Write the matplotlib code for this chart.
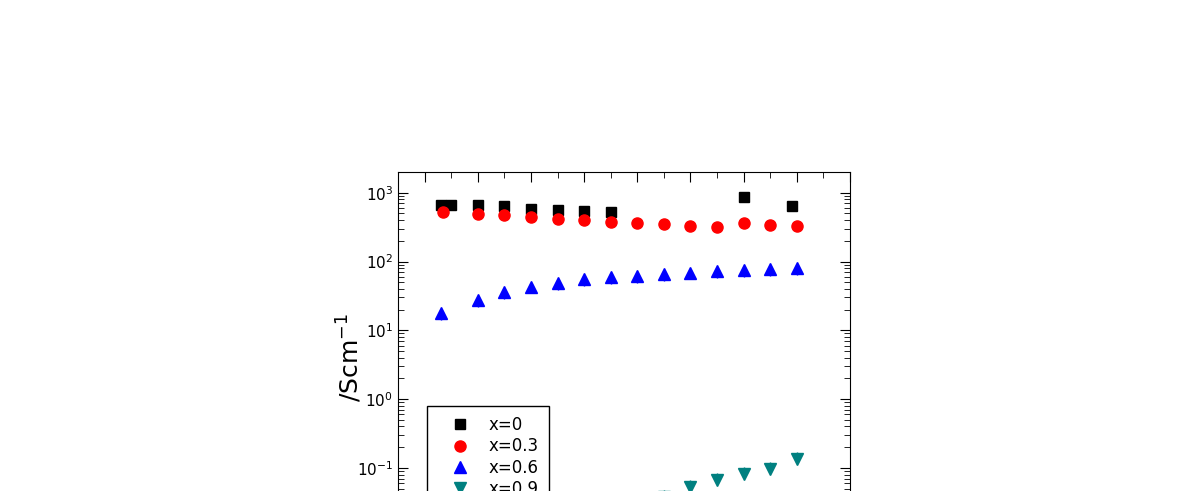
import numpy as np
import matplotlib
matplotlib.use('Agg')
import matplotlib.pyplot as plt
from matplotlib.ticker import MultipleLocator, LogLocator, NullFormatter

# valores
x_0 = [65, 75, 100, 125, 150, 175, 200, 225, 350, 395]
s_0 = [670, 670, 670, 641, 585, 561, 542, 519, 858, 647]

x_03 = [67, 100, 125, 150, 175, 200, 225, 250, 275, 300, 325, 350, 375, 400]
s_03 = [519, 495, 469, 439, 419, 401, 371, 363, 351, 325, 314, 359, 343, 325]

x_06 = [65, 100, 125, 150, 175, 200, 225, 250, 275, 300, 325, 350, 375, 400]
s_06 = [17.7, 27.6, 35.7, 43.0, 48.2, 55.1, 58.9, 61.5, 65.8, 68.7, 72.8, 75.2, 77.8, 79.6]

x_09 = [275, 300, 325, 350, 375, 400]
s_09 = [0.038, 0.0533, 0.0667, 0.0807, 0.0964, 0.133]

rotulos = ['x=0', 'x=0.3', 'x=0.6', 'x=0.9']

W, H = 1190, 491
fig = plt.figure(figsize=(W/100, H/100), dpi=100)
# o eixo continua abaixo da figura (recorte do original)
ymin, ymax = 0.02, 2e3
dec = 68.8
topo = 172
alt = (np.log10(ymax) - np.log10(ymin)) * dec
ax = fig.add_axes([398/W, 1 - (topo + alt)/H, 452/W, alt/H])

ax.plot(x_0, s_0, ls='none', marker='s', color='k', ms=7.5, label=rotulos[0])
ax.plot(x_03, s_03, ls='none', marker='o', color='#ff0000', ms=8, label=rotulos[1])
ax.errorbar(x_06, s_06, yerr=[0.2*np.array(s_06), np.zeros(len(s_06))], fmt='none', ecolor='#0000ff', elinewidth=1)
ax.plot(x_06, s_06, ls='none', marker='^', color='#0000ff', ms=8.5, label=rotulos[2])
ax.errorbar(x_09, s_09, yerr=[np.zeros(len(s_09)), 0.26*np.array(s_09)], fmt='none', ecolor='#008080', elinewidth=1)
ax.plot(x_09, s_09, ls='none', marker='v', color='#008080', ms=8.5, label=rotulos[3])

ax.set_yscale('log')
ax.set_ylim(ymin, ymax)
ax.set_xlim(25, 450)
ax.xaxis.set_major_locator(MultipleLocator(50))
ax.xaxis.set_minor_locator(MultipleLocator(25))
ax.yaxis.set_major_locator(LogLocator(base=10, numticks=20))
ax.yaxis.set_minor_locator(LogLocator(base=10, subs=np.arange(2, 10), numticks=20))
ax.yaxis.set_minor_formatter(NullFormatter())
ax.tick_params(which='both', direction='in', top=True, right=True, labelsize=11, labelbottom=False)
ax.tick_params(which='major', length=7)
ax.tick_params(which='minor', length=4)

fig.text(350/W, 1 - 358/H, '/Scm$^{-1}$', rotation=90, ha='center', va='center', fontsize=18)

ax.legend(loc='upper left', bbox_to_anchor=(427/W, 1 - 406/H), bbox_transform=fig.transFigure,
          borderaxespad=0, fontsize=12, handlelength=2.8, handletextpad=0.3, borderpad=0.6,
          labelspacing=0.2, numpoints=1, fancybox=False, edgecolor='k', framealpha=1)

fig.savefig('out.png', dpi=100)
